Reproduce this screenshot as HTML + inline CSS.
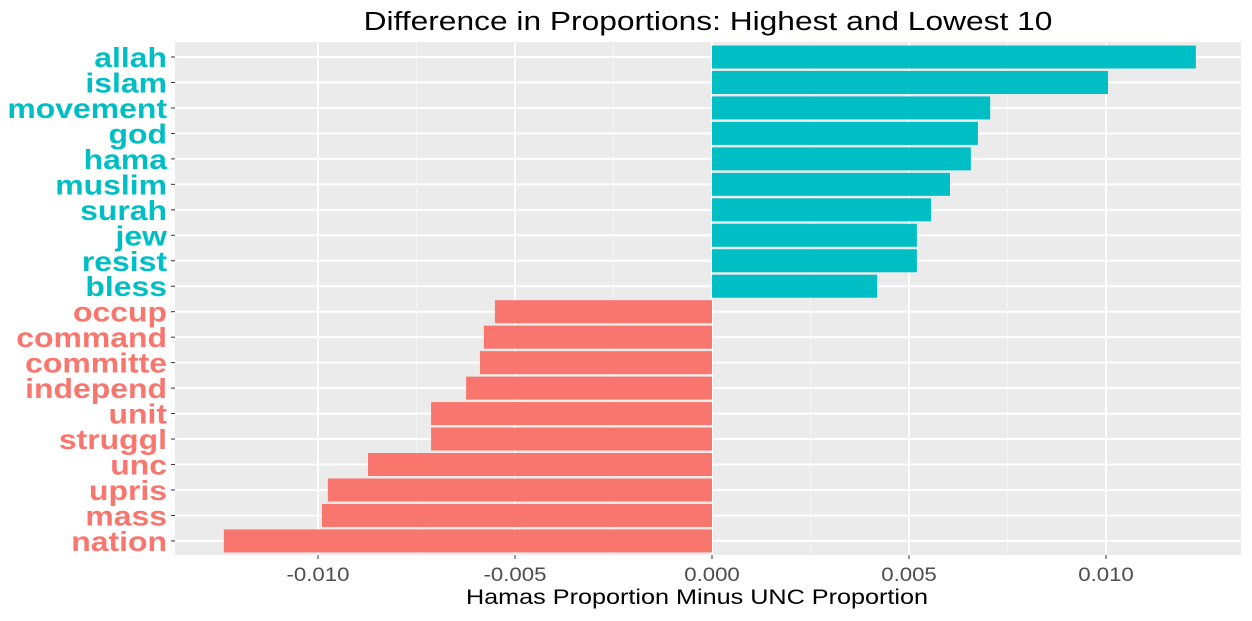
<!DOCTYPE html>
<html><head><meta charset="utf-8"><style>
body{margin:0;background:#fff;}
svg text{font-family:"Liberation Sans",sans-serif;}
</style></head><body>
<svg id="chart" width="1252" height="616">
<text transform="translate(708,30) scale(1.22,1)" font-size="26" text-anchor="middle" fill="#000">Difference in Proportions: Highest and Lowest 10</text>
<rect x="175" y="42" width="1066" height="513" fill="#ebebeb"/>
<g id="grid"></g><g id="bars"></g><g id="labels"></g><g id="xticks"></g>
<text transform="translate(697,604) scale(1.2,1)" font-size="21" text-anchor="middle" fill="#000">Hamas Proportion Minus UNC Proportion</text>
</svg>
<script>
const categories=["allah","islam","movement","god","hama","muslim","surah","jew","resist","bless","occup","command","committe","independ","unit","struggl","unc","upris","mass","nation"];
const values=[0.01228,0.01005,0.00706,0.00675,0.00657,0.00604,0.00556,0.0052,0.0052,0.00419,-0.00551,-0.00579,-0.00589,-0.00624,-0.00713,-0.00713,-0.00873,-0.00975,-0.0099,-0.01239];
const xTicks=[-0.010,-0.005,0.000,0.005,0.010];
const xTickLabels=["-0.010","-0.005","0.000","0.005","0.010"];
const NS="http://www.w3.org/2000/svg";
const x=v=>712+v*39400;
const y=i=>57+i*25.47;
function mk(t,a,p){const e=document.createElementNS(NS,t);for(const k in a)e.setAttribute(k,a[k]);p.appendChild(e);return e;}
const grid=document.getElementById('grid'),bars=document.getElementById('bars'),labels=document.getElementById('labels'),xt=document.getElementById('xticks');
for(let i=0;i<xTicks.length-1;i++){const m=(xTicks[i]+xTicks[i+1])/2;
const g=mk('line',{x1:x(m),x2:x(m),y1:42,y2:555,stroke:'#f5f5f5','stroke-width':1},grid);

}
xTicks.forEach((t,i)=>{
const g=mk('line',{x1:x(t),x2:x(t),y1:42,y2:555,stroke:'#fff','stroke-width':2},grid);


const tk=mk('line',{x1:x(t),x2:x(t),y1:555,y2:559,stroke:'#333','stroke-width':1},xt);


const tl=mk('text',{transform:`translate(${x(t)},581) scale(1.17,1)`,'font-size':19,'text-anchor':'middle',fill:'#4d4d4d'},xt);
tl.textContent=xTickLabels[i];

});
categories.forEach((c,i)=>{
const g=mk('line',{x1:175,x2:1241,y1:y(i),y2:y(i),stroke:'#fff','stroke-width':2},grid);


const v=values[i],col=v>=0?'#00bfc4':'#f8766d';
const b=mk('rect',{x:Math.min(x(0),x(v)),y:y(i)-11.5,width:Math.abs(x(v)-x(0)),height:23,fill:col},bars);


const tk=mk('line',{x1:171,x2:175,y1:y(i),y2:y(i),stroke:'#333','stroke-width':1},labels);


const t=mk('text',{transform:`translate(167,${y(i)+10}) scale(1.14,1)`,'font-size':28,'font-weight':'bold','text-anchor':'end',fill:col},labels);
t.textContent=c;

});
</script>
</body></html>
